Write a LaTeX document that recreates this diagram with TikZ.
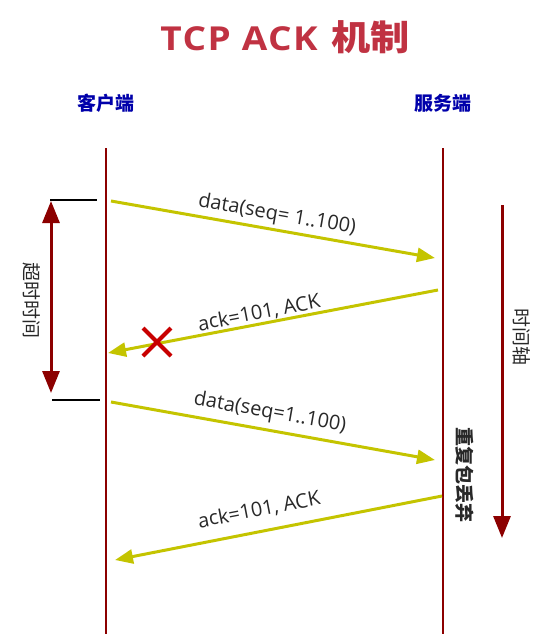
\documentclass[tikz,border=0pt]{standalone}
\usepackage{fontspec}
\setmainfont{Open Sans}
\newfontfamily\cjk{Noto Sans CJK SC}
\newfontfamily\titlefont[LetterSpace=4]{Open Sans}
\usetikzlibrary{arrows.meta}
\definecolor{titlered}{RGB}{192,50,66}
\definecolor{labblue}{RGB}{0,0,170}
\definecolor{lifered}{RGB}{140,0,0}
\definecolor{msgyel}{RGB}{196,196,0}
\definecolor{xred}{RGB}{200,0,0}
\definecolor{txtgray}{RGB}{40,40,40}
\tikzset{
  lifeline/.style={draw=lifered, line width=2pt},
  msg/.style={draw=msgyel, line width=3pt, -{Triangle[length=18pt,width=14pt]}},
  msglabel/.style={font=\fontsize{20}{22}\selectfont, text=txtgray, inner sep=0pt},
  endlbl/.style={font=\cjk\bfseries\fontsize{19}{21}\selectfont, text=labblue, inner sep=0pt},
  vlabel/.style={font=\cjk\fontsize{19}{21}\selectfont, text=txtgray, rotate=-90, inner sep=0pt},
  tick/.style={draw=black, line width=2pt},
  bigarrow/.style={draw=lifered, line width=3pt},
}
\begin{document}
\begin{tikzpicture}[x=1pt,y=-1pt]
\useasboundingbox (0,0) rectangle (550,634);
% title
\node[text=titlered, inner sep=0pt, xscale=1.12] (title) at (285,37) {\titlefont\bfseries\fontsize{33}{36}\selectfont TCP ACK\kern 12pt{\cjk\bfseries\fontsize{35}{38}\selectfont 机制}};
% endpoints
\node[endlbl] (client) at (106,103) {客户端};
\node[endlbl] (server) at (443,103) {服务端};
% lifelines
\coordinate (c0) at (106,148); \coordinate (c1) at (106,634);
\coordinate (s0) at (443,148); \coordinate (s1) at (443,634);
\draw[lifeline] (c0) -- (c1);
\draw[lifeline] (s0) -- (s1);
% messages
\coordinate (m1a) at (111,201); \coordinate (m1b) at (435,258);
\coordinate (m2a) at (438,290); \coordinate (m2b) at (108,353);
\coordinate (m3a) at (111,402); \coordinate (m3b) at (435,460);
\coordinate (m4a) at (442,496); \coordinate (m4b) at (115,560);
\draw[msg] (m1a) -- (m1b);
\draw[msg] (m2a) -- (m2b);
\draw[msg] (m3a) -- (m3b);
\draw[msg] (m4a) -- (m4b);
\node[msglabel, rotate=-10] (l1) at (277,215) {data(seq= 1..100)};
\node[msglabel, rotate=11] (l2) at (259,313) {ack=101, ACK};
\node[msglabel, rotate=-10] (l3) at (270,413) {data(seq=1..100)};
\node[msglabel, rotate=11] (l4) at (259,510) {ack=101, ACK};
% red cross
\coordinate (x0) at (157,342);
\draw[xred, line width=4pt] ([shift={(-14,-14)}]x0) -- ([shift={(14,14)}]x0);
\draw[xred, line width=4pt] ([shift={(-14,14)}]x0) -- ([shift={(14,-14)}]x0);
% timeout
\coordinate (t0a) at (50,200); \coordinate (t0b) at (97,200);
\coordinate (t1a) at (52,400); \coordinate (t1b) at (100,400);
\draw[tick] (t0a) -- (t0b);
\draw[tick] (t1a) -- (t1b);
\coordinate (ta) at (51,201); \coordinate (tb) at (51,393);
\draw[bigarrow, {Triangle[length=22pt,width=17pt]}-{Triangle[length=22pt,width=17pt]}] (ta) -- (tb);
\node[vlabel] (timeout) at (32,300) {超时时间};
% time axis
\coordinate (ax0) at (502,205); \coordinate (ax1) at (502,538);
\draw[bigarrow, -{Triangle[length=22pt,width=17pt]}] (ax0) -- (ax1);
\node[vlabel] (axis) at (522,337) {时间轴};
\node[vlabel, font=\cjk\bfseries\fontsize{19}{21}\selectfont] (dup) at (465,475) {重复包丢弃};
\end{tikzpicture}
\end{document}
